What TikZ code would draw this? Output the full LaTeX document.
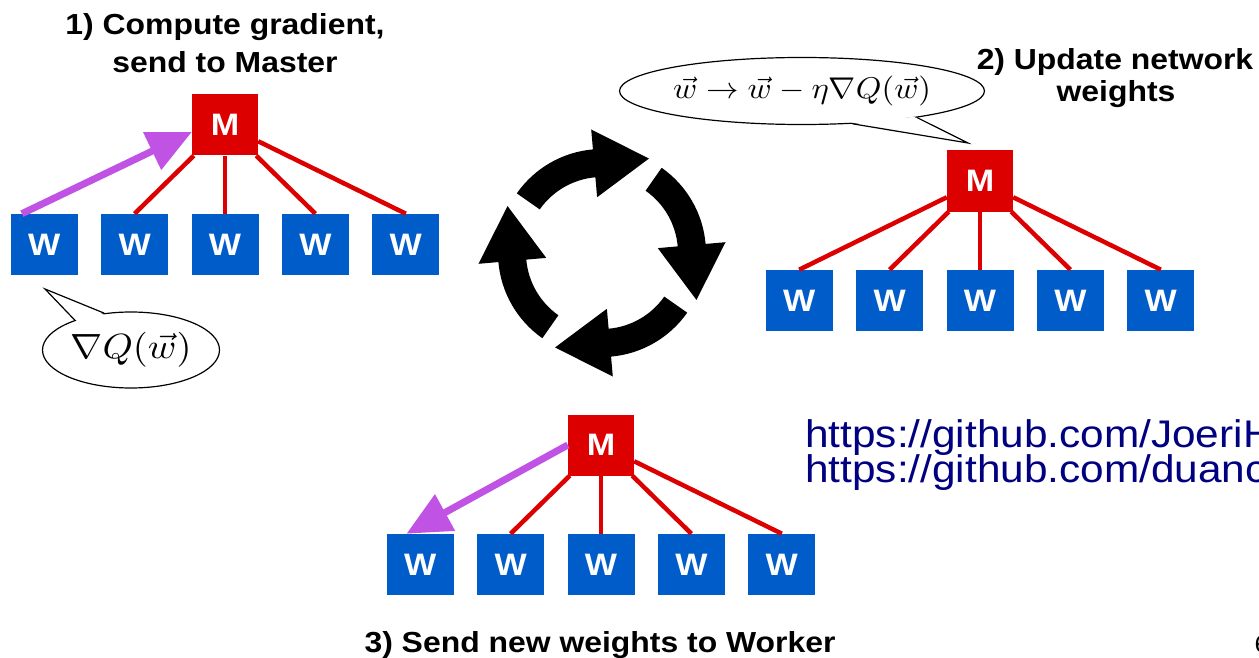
\documentclass[tikz,border=0pt]{standalone}
\usepackage{fontspec}
\usepackage{graphicx}
\usetikzlibrary{positioning, shapes.geometric, arrows.meta, calc}
\newfontfamily\slidefont{Liberation Sans}[FakeStretch=1.1]
\definecolor{masterred}{RGB}{221, 0, 0}
\definecolor{workerblue}{RGB}{0, 92, 200}
\definecolor{pushpurple}{RGB}{192, 82, 228}
\definecolor{linknavy}{RGB}{0, 0, 128}

\begin{document}
\begin{tikzpicture}[
        x=1pt, y=-1pt,
        node distance=58pt and 23pt,
        master/.style={fill=masterred, text=white, minimum width=66pt, minimum height=61pt, inner sep=0pt, font=\slidefont\bfseries\fontsize{31}{32}\selectfont},
        worker/.style={fill=workerblue, text=white, minimum width=67pt, minimum height=61pt, inner sep=0pt, font=\slidefont\bfseries\fontsize{31}{32}\selectfont},
        link/.style={masterred, line width=4.5pt},
        push/.style={pushpurple, line width=7pt, -{Triangle[length=44pt, width=40pt]}},
        heading/.style={anchor=base, font=\slidefont\bfseries\fontsize{29}{32}\selectfont},
        bubble/.style={draw, ellipse, line width=1.2pt, fill=white, inner sep=0pt},
        tail/.style={line width=1.2pt, line join=miter},
        url/.style={anchor=base west, inner sep=0pt, text=linknavy, font=\slidefont\fontsize{38.5}{40}\selectfont}
    ]
        \path[use as bounding box, fill=white] (0,0) rectangle (1259,658);
        \clip (0,0) rectangle (1259,658);

        % step 1: worker pushes its gradient
        \node[master] (m1) at (225,125) {M};
        \node[worker, below=of m1] (w13) {W};
        \node[worker, left=of w13] (w12) {W};
        \node[worker, left=of w12] (w11) {W};
        \node[worker, right=of w13] (w14) {W};
        \node[worker, right=of w14] (w15) {W};
        \foreach \i in {2,...,5}
            \draw[link] (m1) -- (w1\i.north);
        \draw[push] (w11.126) -- (m1.192);

        % step 2: master updates
        \node[master] (m2) at (980,181) {M};
        \node[worker, below=of m2] (w23) {W};
        \node[worker, left=of w23] (w22) {W};
        \node[worker, left=of w22] (w21) {W};
        \node[worker, right=of w23] (w24) {W};
        \node[worker, right=of w24] (w25) {W};
        \foreach \i in {1,...,5}
            \draw[link] (m2) -- (w2\i.north);

        % step 3: master sends weights back
        \node[master] (m3) at (601,445) {M};
        \node[worker, below=of m3] (w33) {W};
        \node[worker, left=of w33] (w32) {W};
        \node[worker, left=of w32] (w31) {W};
        \node[worker, right=of w33] (w34) {W};
        \node[worker, right=of w34] (w35) {W};
        \foreach \i in {2,...,5}
            \draw[link] (m3) -- (w3\i.north);
        \draw[push] (m3.west) -- (w31.114);

        % speech bubbles
        \node[bubble, minimum width=177pt, minimum height=76pt] (grad) at (131,350)
            {\scalebox{3.85}[3.5]{$\nabla Q(\vec{w})$}};
        \coordinate (gradtip) at (45,289);
        \fill[white] ($(grad.152)!3pt!(grad.center)$) -- (gradtip) -- ($(grad.126)!3pt!(grad.center)$) -- cycle;
        \draw[tail] (grad.152) -- (gradtip) -- (grad.126);

        \node[bubble, minimum width=335pt, minimum height=67pt] (rule) at (802,91)
            {\scalebox{3.25}[3]{$\vec{w}\to\vec{w}-\eta\nabla Q(\vec{w})$}};
        \coordinate (ruletip) at (968,143);
        \fill[white] ($(rule.-33)!3pt!(rule.center)$) -- (ruletip) -- ($(rule.-13)!3pt!(rule.center)$) -- cycle;
        \draw[tail] (rule.-33) -- (ruletip) -- (rule.-13);

        % cycle of four arrows
        \begin{scope}[shift={(602,253)}]
            \foreach \t [evaluate=\t as \b using \t-50,
                         evaluate=\t as \tx using 90*cos(\t-50)+55*cos(\t-140),
                         evaluate=\t as \ty using 90*sin(\t-50)+55*sin(\t-140)] in {145,55,-35,-125}
                \fill (\t:104pt) arc[start angle=\t, end angle=\b, radius=104pt]
                    -- (\b:124pt) -- (\tx pt,\ty pt) -- (\b:56pt) -- (\b:76pt)
                    arc[start angle=\b, end angle=\t, radius=76pt] -- cycle;
        \end{scope}

        % headings
        \node[heading] (step1a) at (225,35) {1) Compute gradient,};
        \node[heading] (step1b) at (225,73) {send to Master};
        \node[heading] (step2a) at (1115,70) {2) Update network};
        \node[heading] (step2b) at (1116,102) {weights};
        \node[heading] (step3) at (600,652) {3) Send new weights to Worker};

        \node[url] (repo1) at (805,447) {https://github.com/JoeriH};
        \node[url] (repo2) at (805,482) {https://github.com/duanc};
        \node[anchor=base west, font=\slidefont\fontsize{24}{26}\selectfont] (page) at (1251,652) {6};
    \end{tikzpicture}
\end{document}
